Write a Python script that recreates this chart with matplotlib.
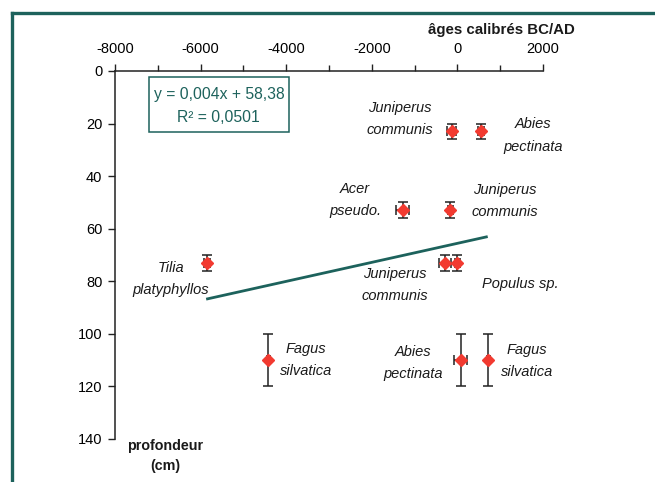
import matplotlib
matplotlib.use("Agg")
import matplotlib.pyplot as plt
from matplotlib.patches import Rectangle
from matplotlib.lines import Line2D
from matplotlib.ticker import MultipleLocator

plt.rcParams['font.family'] = ['Liberation Sans', 'DejaVu Sans']

# ---- data ----
ages = [-133, 551, -1280, -170, -300, 0, -5850, -4420, 77, 722]
depths = [23, 23, 53, 53, 73, 73, 73, 110, 110, 110]
depth_err = [3, 3, 3, 3, 3, 3, 3, 10, 10, 10]
age_err = [100, 60, 150, 60, 140, 60, 60, 30, 150, 30]

trend_x = [-5870, 708]
trend_y = [86.8, 63.0]

labels = ["Juniperus\ncommunis", "Abies\npectinata", "Acer\npseudo.",
          "Juniperus\ncommunis", "Tilia\nplatyphyllos", "Juniperus\ncommunis",
          "Populus sp.", "Fagus\nsilvatica", "Abies\npectinata", "Fagus\nsilvatica"]
label_x = [-1341, 1766, -2393, 1112, -6690, -1458, 1463, -3537, -1040, 1626]
label_y = [18.3, 24.5, 49.0, 49.4, 79.2, 81.5, 81.0, 110.0, 111.0, 110.3]

xticks = [-8000, -6000, -4000, -2000, 0, 2000]
yticks = [0, 20, 40, 60, 80, 100, 120, 140]

eq_line1 = "y = 0,004x + 58,38"
eq_line2 = "R² = 0,0501"
x_title = "âges calibrés BC/AD"
y_title = "profondeur\n(cm)"

teal = "#1d625c"
red = "#f23a30"
txt = "#1a1a1a"

fig = plt.figure(figsize=(6.55, 4.82), dpi=100)
W, H = 655, 482
ax = fig.add_axes([115 / W, 1 - 439 / H, (543 - 115) / W, (439 - 71) / H])

ax.set_xlim(-8000, 2000)
ax.set_ylim(140, 0)

ax.errorbar(ages, depths, yerr=depth_err, xerr=age_err, fmt='none',
            ecolor='#222222', elinewidth=1.1, capsize=3.5, capthick=1.1, zorder=3)
ax.plot(ages, depths, linestyle='none', marker='D', markersize=6.5,
        color=red, markeredgecolor=red, zorder=4)
ax.plot(trend_x, trend_y, color=teal, lw=2.0, zorder=2, solid_capstyle='butt')

for s, x, y in zip(labels, label_x, label_y):
    ax.text(x, y, s, ha='center', va='center', style='italic', fontsize=10.5,
            color=txt, linespacing=1.75)

ax.spines['right'].set_visible(False)
ax.spines['bottom'].set_visible(False)
ax.spines['top'].set_position(('data', 0))
for sp in ('left', 'top'):
    ax.spines[sp].set_color('#222222')
    ax.spines[sp].set_linewidth(1.1)

ax.xaxis.tick_top()
ax.set_xticks(xticks)
ax.set_xticklabels([str(v) for v in xticks])
ax.xaxis.set_minor_locator(MultipleLocator(1000))
ax.set_yticks(yticks)
ax.set_yticklabels([str(v) for v in yticks])
ax.tick_params(axis='x', which='major', direction='out', length=5, width=1,
               labelsize=10.5, pad=6, colors='#222222', labelcolor='black')
ax.tick_params(axis='x', which='minor', direction='out', length=4, width=1,
               colors='#222222')
ax.tick_params(axis='y', which='major', direction='out', length=5, width=1,
               labelsize=10.5, pad=4, colors='#222222', labelcolor='black')

# titles
fig.text(501 / W, 1 - 30 / H, x_title, ha='center', va='center',
         fontsize=10.8, fontweight='bold', color=txt)
ax.text(-6836, 146.4, y_title, ha='center', va='center', fontsize=10.3,
        fontweight='bold', color=txt, linespacing=1.6, clip_on=False)

# equation box
ax.add_patch(Rectangle((149 / W, 1 - 132 / H), (289 - 149) / W, (132 - 77) / H,
                       transform=fig.transFigure, facecolor='white',
                       edgecolor=teal, lw=1.1, zorder=5))
fig.text(219 / W, 1 - 94 / H, eq_line1, ha='center', va='center',
         fontsize=11.3, color=teal, zorder=6)
fig.text(218 / W, 1 - 117 / H, eq_line2, ha='center', va='center',
         fontsize=11.3, color=teal, zorder=6)

# outer frame (top and left)
fig.add_artist(Line2D([12 / W, 12 / W], [0, 1 - 13 / H], transform=fig.transFigure,
                      color=teal, lw=2.4))
fig.add_artist(Line2D([12 / W, 1], [1 - 13 / H, 1 - 13 / H], transform=fig.transFigure,
                      color=teal, lw=2.4))

fig.savefig("out.png", dpi=100)
